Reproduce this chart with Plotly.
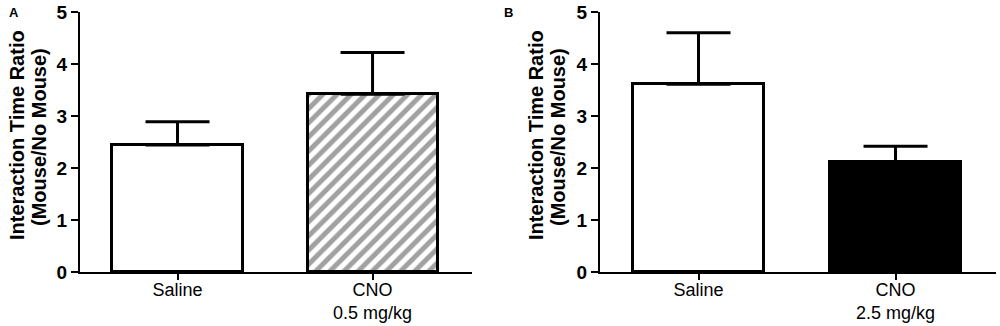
import plotly.graph_objects as go

categories_a = ["Saline", "CNO<br>0.5 mg/kg"]
means_a = [2.44, 3.42]
sem_a = [0.45, 0.80]

categories_b = ["Saline", "CNO<br>2.5 mg/kg"]
means_b = [3.61, 2.12]
sem_b = [0.99, 0.30]

y_ticks = [0, 1, 2, 3, 4, 5]
y_title_1 = "Interaction Time Ratio"
y_title_2 = "(Mouse/No Mouse)"

W, H = 1000, 326
FONT = "Liberation Sans, Arial, sans-serif"

fig = go.Figure()

fig.add_trace(go.Bar(
    x=[0, 1], y=means_a, width=0.667,
    marker=dict(color=["white", "white"],
                line=dict(color="black", width=3),
                pattern=dict(shape=["", "/"], fgcolor="black", bgcolor="white",
                             size=10, solidity=0.5)),
    error_y=dict(type="data", symmetric=False, array=sem_a, arrayminus=[0, 0],
                 color="black", thickness=3, width=32),
    xaxis="x", yaxis="y", showlegend=False,
))

fig.add_trace(go.Bar(
    x=[0, 1], y=means_b, width=0.667,
    marker=dict(color=["white", "black"],
                line=dict(color="black", width=3)),
    error_y=dict(type="data", symmetric=False, array=sem_b, arrayminus=[0, 0],
                 color="black", thickness=3, width=32),
    xaxis="x2", yaxis="y2", showlegend=False,
))

ydom = [1 - 272 / H, 1 - 12 / H]

xcommon = dict(range=[-0.5, 1.51], showline=True, linecolor="black", linewidth=2,
               ticks="outside", ticklen=6, tickwidth=2, tickcolor="black",
               tickmode="array", tickvals=[0, 1], showgrid=False, zeroline=False,
               automargin=False, ticklabelstandoff=-6,
               tickfont=dict(family=FONT, size=18, color="black"), fixedrange=True)
ycommon = dict(range=[0, 5], showline=True, linecolor="black", linewidth=2,
               ticks="outside", ticklen=7, tickwidth=2, tickcolor="black",
               tickmode="array", tickvals=y_ticks, ticktext=[str(t) for t in y_ticks],
               showgrid=False, zeroline=False, domain=ydom, automargin=False,
               tickfont=dict(family=FONT, size=19, color="black", weight="bold"),
               fixedrange=True)

fig.update_layout(
    width=W, height=H,
    margin=dict(l=0, r=0, t=0, b=0, autoexpand=False),
    paper_bgcolor="white", plot_bgcolor="white",
    xaxis=dict(domain=[80 / W, 472 / W], anchor="y", ticktext=categories_a, **xcommon),
    yaxis=dict(anchor="x", **ycommon),
    xaxis2=dict(domain=[600 / W, 996 / W], anchor="y2", ticktext=categories_b, **xcommon),
    yaxis2=dict(anchor="x2", **ycommon),
    bargap=0,
)

annots = []
for px, letter in [(14, "A"), (508, "B")]:
    annots.append(dict(x=px / W, y=1 - 12.5 / H, xref="paper", yref="paper",
                       text=letter, showarrow=False, xanchor="center", yanchor="middle",
                       font=dict(family=FONT, size=13, color="black", weight="bold")))
for base in [0, 519]:
    annots.append(dict(x=(base + 17) / W, y=1 - 135 / H, xref="paper", yref="paper",
                       text=y_title_1, textangle=-90, showarrow=False,
                       xanchor="center", yanchor="middle",
                       font=dict(family=FONT, size=20, color="black", weight="bold")))
    annots.append(dict(x=(base + 39) / W, y=1 - 137 / H, xref="paper", yref="paper",
                       text=y_title_2, textangle=-90, showarrow=False,
                       xanchor="center", yanchor="middle",
                       font=dict(family=FONT, size=20, color="black", weight="bold")))
fig.update_layout(annotations=annots)

fig.write_html("out.html", config={"displayModeBar": False},
               post_script="document.body.style.margin='0';document.body.style.overflow='hidden';")
